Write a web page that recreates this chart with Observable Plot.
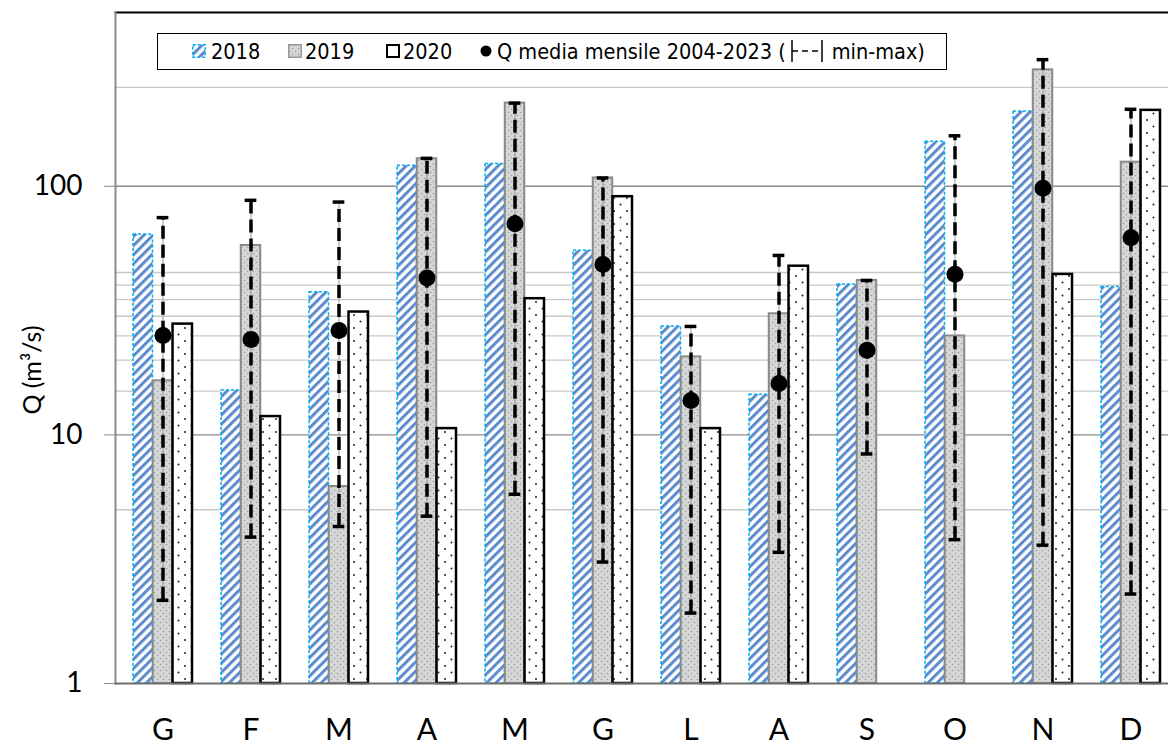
<!DOCTYPE html>
<html>
<head>
<meta charset="utf-8">
<script src="https://cdn.jsdelivr.net/npm/d3@7"></script>
<script src="https://cdn.jsdelivr.net/npm/@observablehq/plot@0.6"></script>
<style>
  html, body { margin: 0; padding: 0; background: #fff; overflow: hidden; }
  #wrap { position: relative; width: 1168px; height: 746px; }
  #legend { position: absolute; left: 157px; top: 33px; width: 790px; height: 37px; border: 1.5px solid #000; background: #fff; box-sizing: border-box;
    font-family: "Liberation Sans Narrow", "DejaVu Sans Condensed", "Liberation Sans", sans-serif; font-size: 21.5px; color: #000; }
  #legend .it { position: absolute; top: 0; height: 34px; display: flex; align-items: center; white-space: nowrap; }
  #legend svg { display: block; }
  #ylab { position: absolute; left: 31px; top: 370px; transform: translate(-50%, -50%) rotate(-90deg); white-space: nowrap;
    font-family: Lato, "Open Sans", sans-serif; font-size: 25px; color: #000; }
</style>
</head>
<body>
<svg width="0" height="0" style="position:absolute">
  <defs>
    <pattern id="p2018" patternUnits="userSpaceOnUse" width="6.5" height="6.5" patternTransform="rotate(45)">
      <rect width="6.5" height="6.5" fill="#fff"/>
      <rect x="0" y="0" width="3" height="6.5" fill="#5b8bcb"/>
    </pattern>
    <pattern id="p2019" patternUnits="userSpaceOnUse" width="6" height="6">
      <rect width="6" height="6" fill="#d6d6d6"/>
      <circle cx="1.5" cy="1.5" r="0.8" fill="#9c9c9c"/>
      <circle cx="4.5" cy="4.5" r="0.8" fill="#9c9c9c"/>
    </pattern>
    <pattern id="p2020" patternUnits="userSpaceOnUse" width="13" height="13">
      <rect width="13" height="13" fill="#fff"/>
      <circle cx="3" cy="3" r="1" fill="#222"/>
      <circle cx="9.5" cy="9.5" r="1" fill="#222"/>
    </pattern>
  </defs>
</svg>
<div id="wrap"></div>
<script>
// ---- data ----
const months = ["G","F","M","A","M","G","L","A","S","O","N","D"];
const q2018 = [64, 15.1, 37.5, 121, 123, 55, 27.3, 14.5, 40.3, 151, 200, 39.3];
const q2019 = [16.5, 57.8, 6.2, 129, 216, 108, 20.6, 30.7, 41.8, 25.0, 294, 125];
const q2020 = [27.9, 11.85, 31.2, 10.6, 35.3, 90.8, 10.6, 47.7, null, null, 44.2, 202];
const qMean = [25.1, 24.2, 26.3, 42.8, 70.7, 48.5, 13.75, 16.1, 21.9, 44.3, 98.2, 62.1];
const qMin  = [2.16, 3.88, 4.28, 4.71, 5.77, 3.08, 1.92, 3.37, 8.38, 3.79, 3.6, 2.29];
const qMax  = [74.8, 87.8, 86.4, 129.5, 216, 108, 27.3, 52.7, 41.8, 159.6, 323, 204];
const yTicks = [1, 10, 100];
const majorGrid = [10, 100];
const minorGrid = [5, 15, 20, 25, 30, 35, 40, 45, 250];
const yDomain = [1, 500];
const yTitle = "Q (m³/s)";

// ---- layout ----
const W = 1168, H = 746;
const xRange = [115, 1177];
const padInner = 0.33;
const bandW = (xRange[1] - xRange[0]) / months.length * (1 - padInner);
const third = bandW / 3;

const idx = d3.range(months.length);
const rows = idx.map(i => ({i, m: months[i], a: q2018[i], b: q2019[i], c: q2020[i], mean: qMean[i], min: qMin[i], max: qMax[i]}));

const chart = Plot.plot({
  width: W,
  height: H,
  marginLeft: 115,
  marginRight: 0,
  marginTop: 12,
  marginBottom: 63,
  style: {fontFamily: "Lato, 'Open Sans', sans-serif", background: "#fff", overflow: "hidden"},
  x: {type: "band", domain: idx, range: xRange, paddingInner: padInner, paddingOuter: padInner / 2},
  y: {type: "log", domain: yDomain},
  marks: [
    Plot.ruleY(minorGrid, {stroke: "#c8c8c8", strokeWidth: 1.3}),
    Plot.ruleY(majorGrid, {stroke: "#8c8c8c", strokeWidth: 1.3}),
    Plot.barY(rows.filter(d => d.a != null), {x: "i", y1: () => yDomain[0], y2: "a", insetRight: 2 * third, fill: "url(#p2018)", stroke: "#00b0f0", strokeWidth: 1.5, strokeDasharray: "3,2"}),
    Plot.barY(rows.filter(d => d.b != null), {x: "i", y1: () => yDomain[0], y2: "b", insetLeft: third, insetRight: third, fill: "url(#p2019)", stroke: "#8a8a8a", strokeWidth: 2}),
    Plot.barY(rows.filter(d => d.c != null), {x: "i", y1: () => yDomain[0], y2: "c", insetLeft: 2 * third, fill: "url(#p2020)", stroke: "#000", strokeWidth: 2.5}),
    Plot.ruleX(rows, {x: "i", y1: "min", y2: "max", stroke: "#999", strokeWidth: 1}),
    Plot.ruleX(rows, {x: "i", y1: "min", y2: "max", stroke: "#000", strokeWidth: 3.5, strokeDasharray: "13,6"}),
    Plot.tickY(rows, {x: "i", y: "max", stroke: "#000", strokeWidth: 3.5, insetLeft: bandW / 2 - 6, insetRight: bandW / 2 - 6}),
    Plot.tickY(rows, {x: "i", y: "min", stroke: "#000", strokeWidth: 3.5, insetLeft: bandW / 2 - 6, insetRight: bandW / 2 - 6}),
    Plot.dot(rows, {x: "i", y: "mean", r: 8.5, fill: "#000", stroke: "none"}),
    Plot.frame({anchor: "top", stroke: "#000", strokeWidth: 2}),
    Plot.frame({anchor: "left", stroke: "#8c8c8c", strokeWidth: 2}),
    Plot.frame({anchor: "bottom", stroke: "#6e6e6e", strokeWidth: 2}),
    Plot.axisY({ticks: yTicks, tickSize: 11, tickFormat: () => "", stroke: "#8c8c8c", label: null}),
    Plot.text(yTicks, {y: d => d, frameAnchor: "left", textAnchor: "end", dx: -33, fontSize: 28, fill: "#000", text: d => String(d)}),
    Plot.axisX({tickSize: 0, tickPadding: 35, fontSize: 30, tickFormat: i => months[i], label: null})
  ]
});
document.getElementById("wrap").appendChild(chart);

const ylab = document.createElement("div");
ylab.id = "ylab";
ylab.textContent = yTitle;
document.getElementById("wrap").appendChild(ylab);

// ---- legend (overlay inside the plot area) ----
const legend = document.createElement("div");
legend.id = "legend";
legend.innerHTML = `
  <div class="it" style="left:34px"><svg width="14" height="14"><rect x="0.75" y="0.75" width="12.5" height="12.5" fill="url(#p2018)" stroke="#00b0f0" stroke-width="1.5" stroke-dasharray="3,2"/></svg><span style="margin-left:5px">2018</span></div>
  <div class="it" style="left:130px"><svg width="14" height="14"><rect x="0.75" y="0.75" width="12.5" height="12.5" fill="url(#p2019)" stroke="#9a9a9a" stroke-width="1.5"/></svg><span style="margin-left:3px">2019</span></div>
  <div class="it" style="left:228px"><svg width="14" height="14"><rect x="1" y="1" width="12" height="12" fill="#fff" stroke="#000" stroke-width="2"/></svg><span style="margin-left:3px">2020</span></div>
  <div class="it" style="left:322px"><svg width="12" height="14"><circle cx="6" cy="7" r="5.5" fill="#000"/></svg><span style="margin-left:5px">Q media mensile 2004-2023 (</span><svg width="34" height="28" style="margin:0 4px"><line x1="2" y1="3" x2="2" y2="25" stroke="#000" stroke-width="1.5"/><line x1="2" y1="14" x2="32" y2="14" stroke="#000" stroke-width="1.5" stroke-dasharray="6,4"/><line x1="32" y1="3" x2="32" y2="25" stroke="#000" stroke-width="1.5"/></svg><span style="margin-left:4px">min-max)</span></div>
`;
document.getElementById("wrap").appendChild(legend);
</script>
</body>
</html>
